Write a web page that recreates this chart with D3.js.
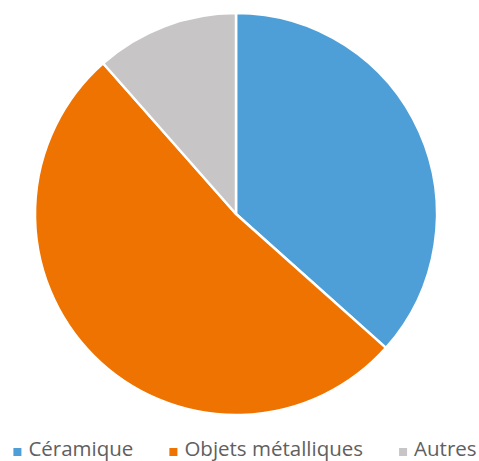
<!DOCTYPE html>
<html>
<head>
<meta charset="utf-8">
<script src="https://cdn.jsdelivr.net/npm/d3@7"></script>
<style>
  body { margin: 0; background: #fff; }
  svg { display: block; }
</style>
</head>
<body>
<svg id="canvas" width="479" height="461"></svg>
<script>
// data (share of each category, in %)
var categories = ['Céramique', 'Objets métalliques', 'Autres'];
var values = [36.6, 51.9, 11.5];
var colors = ['#4e9fd8', '#ee7300', '#c8c5c7'];

var width = 479, height = 461;
var cx = 236, cy = 214, radius = 201;

var svg = d3.select('#canvas');

// ************************************************************************************** //
// Pie

var pie = d3.pie().sort(null).value(function(d){ return d; });
var arc = d3.arc().innerRadius(0).outerRadius(radius);

var origin = svg.append('g').attr('transform', 'translate(' + cx + ',' + cy + ')');
origin.selectAll('path')
  .data(pie(values))
  .enter().append('path')
  .attr('d', arc)
  .attr('fill', function(d, i){ return colors[i]; })
  .attr('stroke', '#fff')
  .attr('stroke-width', 2.5)
  .attr('stroke-linejoin', 'round');

// ************************************************************************************** //
// Legend

var legend = svg.append('g').attr('transform', 'translate(0,456)');
var fontSize = 20.5, box = 8, boxGap = 7, itemGap = 36;
var items = legend.selectAll('g.item').data(categories).enter().append('g').attr('class', 'item');
items.append('rect')
  .attr('width', box).attr('height', box)
  .attr('y', -8)
  .attr('fill', function(d, i){ return colors[i]; });
items.append('text')
  .attr('x', box + boxGap)
  .style('font-family', '"Open Sans", sans-serif')
  .style('font-size', fontSize + 'px')
  .style('fill', '#606060')
  .text(function(d){ return d; });

// place the items one after the other, centred under the chart
var x = 0, offsets = [];
items.each(function(){
  offsets.push(x);
  x += this.getBBox().width + itemGap;
});
var total = x - itemGap;
var startX = 245 - total / 2;
items.attr('transform', function(d, i){ return 'translate(' + (startX + offsets[i]) + ',0)'; });
</script>
</body>
</html>
